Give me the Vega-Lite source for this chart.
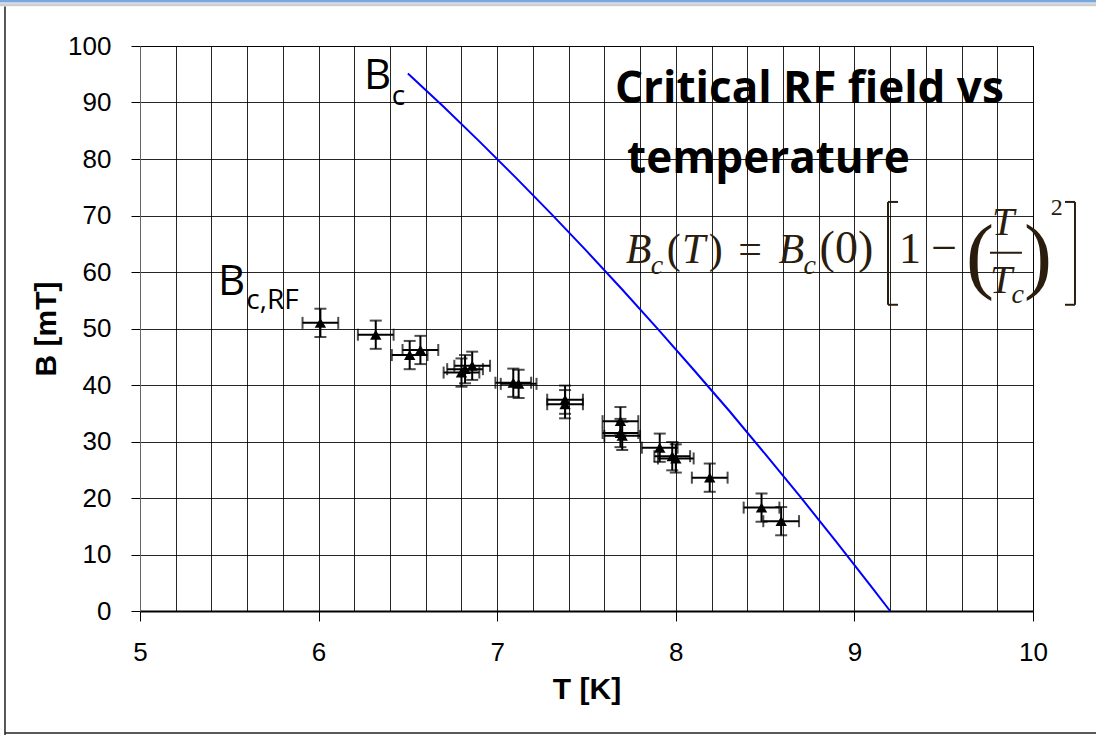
{
  "$schema": "https://vega.github.io/schema/vega-lite/v6.json",
  "width": 893,
  "height": 565,
  "autosize": {"type": "none"},
  "padding": {"left": 140, "top": 46, "right": 63, "bottom": 125},
  "background": "white",
  "config": {
    "view": {"stroke": "#222"},
    "axis": {"labelFont": "Liberation Sans", "titleFont": "Liberation Sans", "labelColor": "#000", "titleColor": "#000"}
  },
  "resolve": {"axis": {"x": "independent", "y": "independent"}},
  "datasets": {
    "rf": [
      {"T": 6.01, "B": 51.0, "dT": 0.1, "dB": 2.5},
      {"T": 6.32, "B": 48.9, "dT": 0.1, "dB": 2.5},
      {"T": 6.51, "B": 45.3, "dT": 0.1, "dB": 2.5},
      {"T": 6.57, "B": 46.2, "dT": 0.1, "dB": 2.5},
      {"T": 6.80, "B": 42.2, "dT": 0.1, "dB": 2.5},
      {"T": 6.82, "B": 42.8, "dT": 0.1, "dB": 2.5},
      {"T": 6.86, "B": 43.4, "dT": 0.1, "dB": 2.5},
      {"T": 7.09, "B": 40.4, "dT": 0.1, "dB": 2.5},
      {"T": 7.12, "B": 40.2, "dT": 0.1, "dB": 2.5},
      {"T": 7.38, "B": 37.4, "dT": 0.1, "dB": 2.5},
      {"T": 7.38, "B": 36.6, "dT": 0.1, "dB": 2.5},
      {"T": 7.69, "B": 33.6, "dT": 0.1, "dB": 2.5},
      {"T": 7.69, "B": 31.5, "dT": 0.1, "dB": 2.5},
      {"T": 7.70, "B": 31.0, "dT": 0.1, "dB": 2.5},
      {"T": 7.91, "B": 28.9, "dT": 0.1, "dB": 2.5},
      {"T": 7.98, "B": 27.4, "dT": 0.1, "dB": 2.5},
      {"T": 8.00, "B": 27.0, "dT": 0.1, "dB": 2.5},
      {"T": 8.19, "B": 23.6, "dT": 0.1, "dB": 2.5},
      {"T": 8.48, "B": 18.3, "dT": 0.1, "dB": 2.5},
      {"T": 8.59, "B": 15.9, "dT": 0.1, "dB": 2.5}
    ],
    "bc": [
      {"T": 6.5, "B": 95.15},
      {"T": 6.7, "B": 89.23},
      {"T": 6.9, "B": 83.12},
      {"T": 7.1, "B": 76.84},
      {"T": 7.3, "B": 70.37},
      {"T": 7.5, "B": 63.73},
      {"T": 7.7, "B": 56.9},
      {"T": 7.9, "B": 49.9},
      {"T": 8.1, "B": 42.7},
      {"T": 8.3, "B": 35.4},
      {"T": 8.5, "B": 27.8},
      {"T": 8.7, "B": 20.1},
      {"T": 8.9, "B": 12.2},
      {"T": 9.1, "B": 4.1},
      {"T": 9.2, "B": 0}
    ]
  },
  "layer": [
    {
      "encoding": {
        "x": {
          "field": "T", "type": "quantitative",
          "scale": {"domain": [5, 10], "nice": false, "zero": false},
          "axis": {
            "title": "T [K]",
            "values": [5, 5.2, 5.4, 5.6, 5.8, 6, 6.2, 6.4, 6.6, 6.8, 7, 7.2, 7.4, 7.6, 7.8, 8, 8.2, 8.4, 8.6, 8.8, 9, 9.2, 9.4, 9.6, 9.8, 10],
            "grid": true, "gridColor": "#000", "gridWidth": 1, "gridOpacity": 0.85,
            "labelExpr": "abs(datum.value - round(datum.value)) < 0.01 ? format(datum.value, 'd') : ''",
            "labelOverlap": false, "labelBound": false, "labelFlush": false,
            "labelFontSize": 26, "labelPadding": 18,
            "tickSize": 10, "tickColor": "#000", "tickWidth": 1,
            "tickOpacity": {"condition": {"test": "abs(datum.value - round(datum.value)) < 0.01", "value": 1}, "value": 0},
            "domainColor": "#000", "domainWidth": 2,
            "titleFontSize": 30, "titleFontWeight": "bold", "titlePadding": 9
          }
        },
        "y": {
          "field": "B", "type": "quantitative",
          "scale": {"domain": [0, 100], "nice": false},
          "axis": {
            "title": "B [mT]",
            "values": [0, 10, 20, 30, 40, 50, 60, 70, 80, 90, 100],
            "grid": true, "gridColor": "#000", "gridWidth": 1, "gridOpacity": 0.85,
            "labelFontSize": 26, "labelPadding": 20,
            "tickSize": 9, "tickColor": "#000",
            "domainColor": "#666", "domainWidth": 1,
            "titleFontSize": 30, "titleFontWeight": "bold", "titlePadding": 6
          }
        }
      },
      "layer": [
        {
          "data": {"name": "bc"},
          "mark": {"type": "line", "color": "#0000ff", "strokeWidth": 2}
        },
        {
          "data": {"name": "rf"},
          "mark": {"type": "errorbar", "color": "#000", "thickness": 2, "ticks": {"size": 12, "thickness": 2, "color": "#000"}, "rule": {"strokeWidth": 2, "color": "#000"}},
          "encoding": {"xError": {"field": "dT"}}
        },
        {
          "data": {"name": "rf"},
          "mark": {"type": "errorbar", "color": "#000", "thickness": 2, "ticks": {"size": 12, "thickness": 2, "color": "#000"}, "rule": {"strokeWidth": 2, "color": "#000"}},
          "encoding": {"yError": {"field": "dB"}}
        },
        {
          "data": {"name": "rf"},
          "mark": {"type": "point", "shape": "triangle-up", "filled": true, "color": "#000", "size": 130, "opacity": 1}
        }
      ]
    },
    {
      "data": {"values": [{}]},
      "mark": {"type": "rule", "color": "#7aa7e0", "strokeWidth": 3, "clip": false},
      "encoding": {"x": {"datum": 4.216, "type": "quantitative", "axis": null}, "x2": {"datum": 10.353}, "y": {"datum": 107.96, "type": "quantitative", "axis": null}}
    },
    {
      "data": {"values": [{}]},
      "mark": {"type": "rule", "color": "#cfcfcf", "strokeWidth": 3, "clip": false},
      "encoding": {"x": {"datum": 4.216, "type": "quantitative", "axis": null}, "x2": {"datum": 10.353}, "y": {"datum": 107.3, "type": "quantitative", "axis": null}}
    },
    {
      "data": {"values": [{}]},
      "mark": {"type": "rule", "color": "#222", "strokeWidth": 1.5, "clip": false},
      "encoding": {"x": {"datum": 4.244, "type": "quantitative", "axis": null}, "y": {"datum": -21.95, "type": "quantitative", "axis": null}, "y2": {"datum": 107.0}}
    },
    {
      "data": {"values": [{}]},
      "mark": {"type": "rule", "color": "#222", "strokeWidth": 1.5, "clip": false},
      "encoding": {"x": {"datum": 4.244, "type": "quantitative", "axis": null}, "x2": {"datum": 10.353}, "y": {"datum": -21.59, "type": "quantitative", "axis": null}}
    },
    {
      "data": {"values": [{}]},
      "mark": {"type": "text", "text": "B", "font": "Open Sans", "fontSize": 42, "align": "left", "baseline": "alphabetic", "color": "#000"},
      "encoding": {"x": {"datum": 6.254, "type": "quantitative", "axis": null}, "y": {"datum": 92.4, "type": "quantitative", "axis": null}}
    },
    {
      "data": {"values": [{}]},
      "mark": {"type": "text", "text": "c", "font": "Open Sans", "fontSize": 28, "align": "left", "baseline": "alphabetic", "color": "#000"},
      "encoding": {"x": {"datum": 6.41, "type": "quantitative", "axis": null}, "y": {"datum": 89.6, "type": "quantitative", "axis": null}}
    },
    {
      "data": {"values": [{}]},
      "mark": {"type": "text", "text": "B", "font": "Open Sans", "fontSize": 42, "align": "left", "baseline": "alphabetic", "color": "#000"},
      "encoding": {"x": {"datum": 5.437, "type": "quantitative", "axis": null}, "y": {"datum": 55.9, "type": "quantitative", "axis": null}}
    },
    {
      "data": {"values": [{}]},
      "mark": {"type": "text", "text": "c,RF", "font": "Open Sans", "fontSize": 28, "align": "left", "baseline": "alphabetic", "color": "#000"},
      "encoding": {"x": {"datum": 5.595, "type": "quantitative", "axis": null}, "y": {"datum": 53.45, "type": "quantitative", "axis": null}}
    },
    {
      "data": {"values": [{}]},
      "mark": {"type": "text", "text": "Critical RF field vs", "font": "Open Sans", "fontWeight": "bold", "fontSize": 44, "align": "left", "baseline": "alphabetic", "color": "#000"},
      "encoding": {"x": {"datum": 7.66, "type": "quantitative", "axis": null}, "y": {"datum": 89.9, "type": "quantitative", "axis": null}}
    },
    {
      "data": {"values": [{}]},
      "mark": {"type": "text", "text": "temperature", "font": "Open Sans", "fontWeight": "bold", "fontSize": 44, "align": "left", "baseline": "alphabetic", "color": "#000"},
      "encoding": {"x": {"datum": 7.727, "type": "quantitative", "axis": null}, "y": {"datum": 77.5, "type": "quantitative", "axis": null}}
    },
    {
      "data": {"values": [{}]},
      "mark": {"type": "text", "text": "B", "font": "Liberation Serif", "fontStyle": "italic", "fontSize": 42, "align": "left", "baseline": "alphabetic", "color": "#2b1d0e"},
      "encoding": {"x": {"datum": 7.72, "type": "quantitative", "axis": null}, "y": {"datum": 61.6, "type": "quantitative", "axis": null}}
    },
    {
      "data": {"values": [{}]},
      "mark": {"type": "text", "text": "c", "font": "Liberation Serif", "fontStyle": "italic", "fontSize": 28, "align": "left", "baseline": "alphabetic", "color": "#2b1d0e"},
      "encoding": {"x": {"datum": 7.86, "type": "quantitative", "axis": null}, "y": {"datum": 59.6, "type": "quantitative", "axis": null}}
    },
    {
      "data": {"values": [{}]},
      "mark": {"type": "text", "text": "(", "font": "Liberation Serif", "fontSize": 42, "align": "left", "baseline": "alphabetic", "color": "#2b1d0e"},
      "encoding": {"x": {"datum": 7.95, "type": "quantitative", "axis": null}, "y": {"datum": 61.6, "type": "quantitative", "axis": null}}
    },
    {
      "data": {"values": [{}]},
      "mark": {"type": "text", "text": "T", "font": "Liberation Serif", "fontStyle": "italic", "fontSize": 42, "align": "left", "baseline": "alphabetic", "color": "#2b1d0e"},
      "encoding": {"x": {"datum": 8.035, "type": "quantitative", "axis": null}, "y": {"datum": 61.6, "type": "quantitative", "axis": null}}
    },
    {
      "data": {"values": [{}]},
      "mark": {"type": "text", "text": ")", "font": "Liberation Serif", "fontSize": 42, "align": "left", "baseline": "alphabetic", "color": "#2b1d0e"},
      "encoding": {"x": {"datum": 8.185, "type": "quantitative", "axis": null}, "y": {"datum": 61.6, "type": "quantitative", "axis": null}}
    },
    {
      "data": {"values": [{}]},
      "mark": {"type": "text", "text": "=", "font": "Liberation Serif", "fontSize": 42, "align": "left", "baseline": "alphabetic", "color": "#2b1d0e"},
      "encoding": {"x": {"datum": 8.35, "type": "quantitative", "axis": null}, "y": {"datum": 61.6, "type": "quantitative", "axis": null}}
    },
    {
      "data": {"values": [{}]},
      "mark": {"type": "text", "text": "B", "font": "Liberation Serif", "fontStyle": "italic", "fontSize": 42, "align": "left", "baseline": "alphabetic", "color": "#2b1d0e"},
      "encoding": {"x": {"datum": 8.575, "type": "quantitative", "axis": null}, "y": {"datum": 61.6, "type": "quantitative", "axis": null}}
    },
    {
      "data": {"values": [{}]},
      "mark": {"type": "text", "text": "c", "font": "Liberation Serif", "fontStyle": "italic", "fontSize": 28, "align": "left", "baseline": "alphabetic", "color": "#2b1d0e"},
      "encoding": {"x": {"datum": 8.715, "type": "quantitative", "axis": null}, "y": {"datum": 59.6, "type": "quantitative", "axis": null}}
    },
    {
      "data": {"values": [{}]},
      "mark": {"type": "text", "text": "(0)", "font": "Liberation Serif", "fontSize": 46, "align": "left", "baseline": "alphabetic", "color": "#2b1d0e"},
      "encoding": {"x": {"datum": 8.805, "type": "quantitative", "axis": null}, "y": {"datum": 61.6, "type": "quantitative", "axis": null}}
    },
    {
      "data": {"values": [{}]},
      "mark": {"type": "rule", "color": "#2b1d0e", "strokeWidth": 2},
      "encoding": {"x": {"datum": 9.188, "type": "quantitative", "axis": null}, "y": {"datum": 54.2, "type": "quantitative", "axis": null}, "y2": {"datum": 72.4}}
    },
    {
      "data": {"values": [{}]},
      "mark": {"type": "rule", "color": "#2b1d0e", "strokeWidth": 2},
      "encoding": {"x": {"datum": 9.188, "type": "quantitative", "axis": null}, "x2": {"datum": 9.244}, "y": {"datum": 72.4, "type": "quantitative", "axis": null}}
    },
    {
      "data": {"values": [{}]},
      "mark": {"type": "rule", "color": "#2b1d0e", "strokeWidth": 2},
      "encoding": {"x": {"datum": 9.188, "type": "quantitative", "axis": null}, "x2": {"datum": 9.244}, "y": {"datum": 54.2, "type": "quantitative", "axis": null}}
    },
    {
      "data": {"values": [{}]},
      "mark": {"type": "text", "text": "1", "font": "Liberation Serif", "fontSize": 44, "align": "left", "baseline": "alphabetic", "color": "#2b1d0e"},
      "encoding": {"x": {"datum": 9.25, "type": "quantitative", "axis": null}, "y": {"datum": 61.6, "type": "quantitative", "axis": null}}
    },
    {
      "data": {"values": [{}]},
      "mark": {"type": "text", "text": "−", "font": "Liberation Serif", "fontSize": 46, "align": "left", "baseline": "alphabetic", "color": "#2b1d0e"},
      "encoding": {"x": {"datum": 9.43, "type": "quantitative", "axis": null}, "y": {"datum": 61.6, "type": "quantitative", "axis": null}}
    },
    {
      "data": {"values": [{}]},
      "mark": {"type": "text", "text": "(", "font": "Liberation Serif", "fontSize": 84, "align": "left", "baseline": "alphabetic", "color": "#2b1d0e"},
      "encoding": {"x": {"datum": 9.625, "type": "quantitative", "axis": null}, "y": {"datum": 58.0, "type": "quantitative", "axis": null}}
    },
    {
      "data": {"values": [{}]},
      "mark": {"type": "text", "text": "T", "font": "Liberation Serif", "fontStyle": "italic", "fontSize": 40, "align": "left", "baseline": "alphabetic", "color": "#2b1d0e"},
      "encoding": {"x": {"datum": 9.77, "type": "quantitative", "axis": null}, "y": {"datum": 66.5, "type": "quantitative", "axis": null}}
    },
    {
      "data": {"values": [{}]},
      "mark": {"type": "rule", "color": "#2b1d0e", "strokeWidth": 2},
      "encoding": {"x": {"datum": 9.759, "type": "quantitative", "axis": null}, "x2": {"datum": 9.938}, "y": {"datum": 63.4, "type": "quantitative", "axis": null}}
    },
    {
      "data": {"values": [{}]},
      "mark": {"type": "text", "text": "T", "font": "Liberation Serif", "fontStyle": "italic", "fontSize": 40, "align": "left", "baseline": "alphabetic", "color": "#2b1d0e"},
      "encoding": {"x": {"datum": 9.759, "type": "quantitative", "axis": null}, "y": {"datum": 56.3, "type": "quantitative", "axis": null}}
    },
    {
      "data": {"values": [{}]},
      "mark": {"type": "text", "text": "c", "font": "Liberation Serif", "fontStyle": "italic", "fontSize": 28, "align": "left", "baseline": "alphabetic", "color": "#2b1d0e"},
      "encoding": {"x": {"datum": 9.88, "type": "quantitative", "axis": null}, "y": {"datum": 54.6, "type": "quantitative", "axis": null}}
    },
    {
      "data": {"values": [{}]},
      "mark": {"type": "text", "text": ")", "font": "Liberation Serif", "fontSize": 84, "align": "left", "baseline": "alphabetic", "color": "#2b1d0e"},
      "encoding": {"x": {"datum": 9.95, "type": "quantitative", "axis": null}, "y": {"datum": 58.0, "type": "quantitative", "axis": null}}
    },
    {
      "data": {"values": [{}]},
      "mark": {"type": "text", "text": "2", "font": "Liberation Serif", "fontSize": 24, "align": "left", "baseline": "alphabetic", "color": "#2b1d0e"},
      "encoding": {"x": {"datum": 10.1, "type": "quantitative", "axis": null}, "y": {"datum": 70.1, "type": "quantitative", "axis": null}}
    },
    {
      "data": {"values": [{}]},
      "mark": {"type": "rule", "color": "#2b1d0e", "strokeWidth": 2},
      "encoding": {"x": {"datum": 10.235, "type": "quantitative", "axis": null}, "y": {"datum": 54.2, "type": "quantitative", "axis": null}, "y2": {"datum": 72.4}}
    },
    {
      "data": {"values": [{}]},
      "mark": {"type": "rule", "color": "#2b1d0e", "strokeWidth": 2},
      "encoding": {"x": {"datum": 10.179, "type": "quantitative", "axis": null}, "x2": {"datum": 10.235}, "y": {"datum": 72.4, "type": "quantitative", "axis": null}}
    },
    {
      "data": {"values": [{}]},
      "mark": {"type": "rule", "color": "#2b1d0e", "strokeWidth": 2},
      "encoding": {"x": {"datum": 10.179, "type": "quantitative", "axis": null}, "x2": {"datum": 10.235}, "y": {"datum": 54.2, "type": "quantitative", "axis": null}}
    }
  ]
}
